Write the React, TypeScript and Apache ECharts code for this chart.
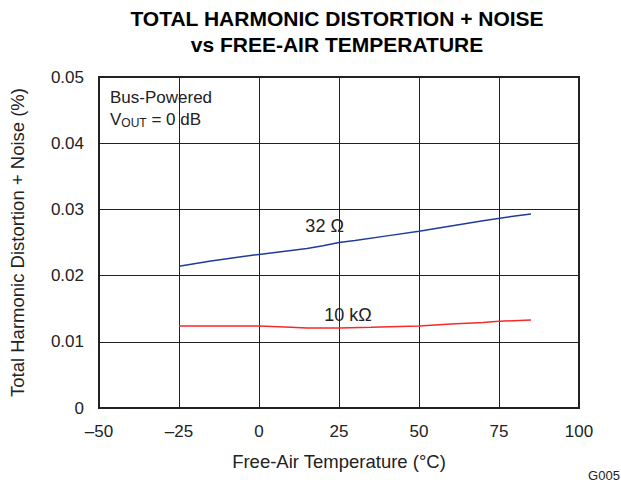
import React, { useEffect, useRef } from "react";
import * as echarts from "echarts";

const temps32 = [-25, -15, -5, 0, 5, 10, 15, 20, 25, 30, 40, 50, 60, 70, 80, 85];
const thd32 = [0.0214, 0.0222, 0.0229, 0.0232, 0.0235, 0.0238, 0.0241, 0.0245, 0.025, 0.0253, 0.026, 0.0267, 0.0275, 0.0283, 0.029, 0.0293];
const temps10k = [-25, 0, 10, 15, 25, 35, 50, 60, 70, 75, 85];
const thd10k = [0.0124, 0.0124, 0.0122, 0.0121, 0.0121, 0.0122, 0.0124, 0.0127, 0.0129, 0.0131, 0.0133];

const titleLines = ["TOTAL HARMONIC DISTORTION + NOISE", "vs FREE-AIR TEMPERATURE"];
const xName = "Free-Air Temperature (°C)";
const yName = "Total Harmonic Distortion + Noise (%)";
const label32 = "32 Ω";
const label10k = "10 kΩ";

const FONT = "Liberation Sans, Arial, Helvetica, sans-serif";

export default function App() {
  const ref = useRef<HTMLDivElement>(null);
  useEffect(() => {
    document.body.style.margin = "0";
    const chart = echarts.init(ref.current!, null, { renderer: "svg" });
    const pairs = (xs: number[], ys: number[]) => xs.map((x, i) => [x, ys[i]]);
    chart.setOption({
      animation: false,
      textStyle: { fontFamily: FONT },
      grid: { left: 93, right: 42, top: 77, bottom: 79, containLabel: false, show: true, borderColor: "#222", borderWidth: 2 },
      graphic: [
        {
          type: "text",
          x: 337,
          y: 6,
          style: {
            text: titleLines.join("\n"),
            textAlign: "center",
            fontSize: 21,
            fontWeight: "bold",
            lineHeight: 25.5,
            fill: "#000",
            fontFamily: FONT,
          },
        },
        {
          type: "text",
          x: 110,
          y: 86,
          style: {
            text: "Bus-Powered\n{v|V}{sub|OUT}{v| = 0 dB}",
            fontSize: 17,
            lineHeight: 22,
            fill: "#222",
            fontFamily: FONT,
            rich: {
              v: { fontSize: 17, fill: "#222", fontFamily: FONT },
              sub: { fontSize: 12, fill: "#222", fontFamily: FONT, padding: [8, 0, 0, 0] },
            },
          },
        },
        {
          type: "text",
          x: 604,
          y: 475,
          style: { text: "G005", textAlign: "center", textVerticalAlign: "middle", fontSize: 13, fill: "#222", fontFamily: FONT },
        },
      ],
      xAxis: {
        type: "value",
        min: -50,
        max: 100,
        interval: 25,
        name: xName,
        nameLocation: "middle",
        nameGap: 44,
        nameTextStyle: { fontSize: 18.5, color: "#222" },
        axisLine: { show: false },
        axisTick: { show: false },
        axisLabel: {
          fontSize: 17,
          color: "#222",
          margin: 15,
          formatter: (v: number) => String(v).replace("-", "–"),
        },
        splitLine: { show: true, lineStyle: { color: "#222", width: 1 } },
      },
      yAxis: {
        type: "value",
        min: 0,
        max: 0.05,
        interval: 0.01,
        name: yName,
        nameLocation: "middle",
        nameGap: 72,
        nameTextStyle: { fontSize: 18.5, color: "#222" },
        axisLine: { show: false },
        axisTick: { show: false },
        axisLabel: {
          fontSize: 17,
          color: "#222",
          margin: 15,
          formatter: (v: number) => (v === 0 ? "0" : v.toFixed(2)),
        },
        splitLine: { show: true, lineStyle: { color: "#222", width: 1 } },
      },
      series: [
        {
          type: "line",
          data: pairs(temps32, thd32),
          showSymbol: false,
          lineStyle: { color: "#1f3c9a", width: 1.5 },
          markPoint: {
            symbol: "circle",
            symbolSize: 0,
            label: { show: true, formatter: label32, fontSize: 18, color: "#222", fontFamily: FONT },
            data: [{ coord: [20.5, 0.0275] }],
          },
        },
        {
          type: "line",
          data: pairs(temps10k, thd10k),
          showSymbol: false,
          lineStyle: { color: "#f52a2a", width: 1.5 },
          markPoint: {
            symbol: "circle",
            symbolSize: 0,
            label: { show: true, formatter: label10k, fontSize: 18, color: "#222", fontFamily: FONT },
            data: [{ coord: [27.8, 0.01405] }],
          },
        },
      ],
    });
    return () => chart.dispose();
  }, []);
  return <div ref={ref} style={{ position: "absolute", left: 0, top: 0, width: 621, height: 487 }} />;
}
